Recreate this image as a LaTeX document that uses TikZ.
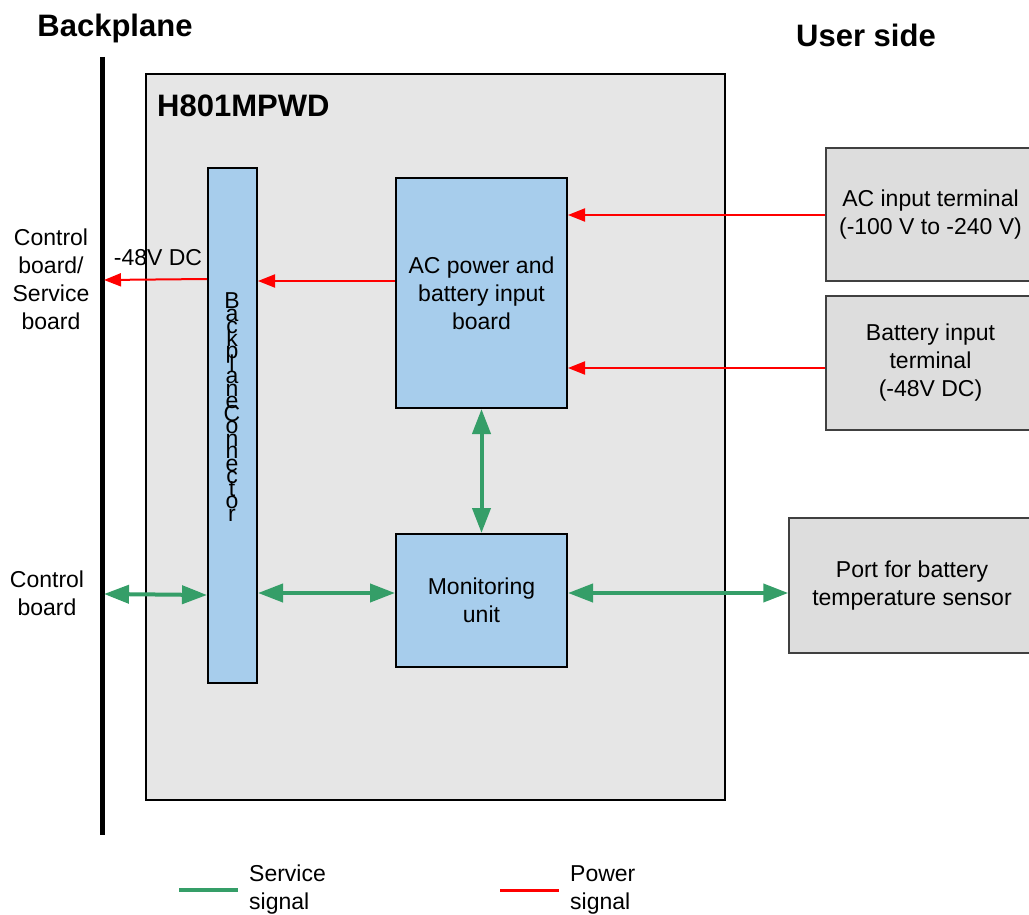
\documentclass[tikz,border=0pt]{standalone}
\usepackage{fontspec}
\setmainfont{Liberation Sans}
\usetikzlibrary{arrows.meta}
\definecolor{mainfill}{HTML}{E6E6E6}
\definecolor{bluefill}{HTML}{A7CDEC}
\definecolor{sidefill}{HTML}{DDDDDD}
\definecolor{sigGreen}{HTML}{359E68}
\definecolor{sigRed}{HTML}{FF0000}
\newcommand{\stackfnt}{\fontsize{23}{12.5}\selectfont\lineskiplimit=-100pt\relax\lineskip=0pt\relax}
\tikzset{
  txt/.style={font=\fontsize{23}{28}\selectfont, align=center, inner sep=0pt},
  ttl/.style={font=\fontsize{31}{36}\selectfont\bfseries, inner sep=0pt},
  mainbox/.style={draw=black, line width=1.5pt, fill=mainfill, inner sep=0pt},
  bluebox/.style={draw=black, line width=2pt, fill=bluefill, txt},
  sidebox/.style={draw=black!75, line width=1.5pt, fill=sidefill, txt},
  svc/.style={draw=sigGreen, line width=4pt, {Triangle[length=25pt,width=18pt]}-{Triangle[length=25pt,width=18pt]}},
  pwr/.style={draw=sigRed, line width=2pt, -{Triangle[length=17pt,width=13pt]}},
}
\begin{document}
\begin{tikzpicture}[x=1pt,y=-1pt]
\useasboundingbox (0,0) rectangle (1029,915);
% titles
\node[ttl] (tbp) at (115,28) {Backplane};
\node[ttl] (tus) at (866,35) {User side};
% backplane line
\coordinate (bpTop) at (102,57);
\coordinate (bpBot) at (102,835);
\draw[line width=5pt] (bpTop) -- (bpBot);
% main board
\node[mainbox, minimum width=579pt, minimum height=726pt] (main) at (435.5,437) {};
\node[ttl, anchor=west] (mtitle) at (157,106) {H801MPWD};
% backplane connector
\node[bluebox, minimum width=49pt, minimum height=515pt] (bpc) at (232.5,425.5) {};
\node[inner sep=0pt, align=center, font=\stackfnt] (bpctext) at (232,407)
  {B\\a\\c\\k\\p\\l\\a\\n\\e\\C\\o\\n\\n\\e\\c\\t\\o\\r};
% inner boxes
\node[bluebox, minimum width=171pt, minimum height=230pt] (acp) at (481.5,293) {AC power and\\battery input\\board};
\node[bluebox, minimum width=171pt, minimum height=133pt] (mon) at (481.5,600.5) {Monitoring\\unit};
% user side boxes
\node[sidebox, minimum width=209pt, minimum height=133pt] (acin) at (930.5,214.5) {AC input terminal\\(-100 V to -240 V)};
\node[sidebox, minimum width=209pt, minimum height=134pt] (batin) at (930.5,363) {Battery input\\terminal\\(-48V DC)};
\node[sidebox, minimum width=246pt, minimum height=135pt] (port) at (912,585.5) {Port for battery\\temperature sensor};
% left labels
\node[txt] (lcs) at (51,279) {Control\\board/\\Service\\board};
\node[txt] (lcb) at (47,593) {Control\\board};
\node[txt] (l48) at (158,258) {-48V DC};
% backplane points
\coordinate (bpPwr) at (104,280);
\coordinate (bpSvc) at (104,594);
% power connectors
\draw[pwr] (acin.west |- 0,215) -- (acp.east |- 0,215);
\draw[pwr] (batin.west |- 0,368) -- (acp.east |- 0,368);
\draw[pwr] (acp.west |- 0,281) -- (bpc.east |- 0,281);
\draw[pwr] (bpc.west |- 0,279) -- (bpPwr);
% service connectors
\draw[svc] (bpSvc) -- (bpc.west |- 0,595);
\draw[svc] (bpc.east |- 0,593) -- (mon.west |- 0,593);
\draw[svc] (mon.east |- 0,593) -- (port.west |- 0,593);
\draw[svc] (acp.south) -- (mon.north);
% legend
\coordinate (lg1) at (179,890);
\coordinate (lg2) at (238,890);
\coordinate (lr1) at (500,890);
\coordinate (lr2) at (559,890);
\draw[sigGreen, line width=4.5pt] (lg1) -- (lg2);
\draw[sigRed, line width=3pt] (lr1) -- (lr2);
\node[txt, anchor=west, align=left] (lgt) at (249,890) {Service\\signal};
\node[txt, anchor=west, align=left] (lrt) at (570,890) {Power\\signal};
\end{tikzpicture}
\end{document}
